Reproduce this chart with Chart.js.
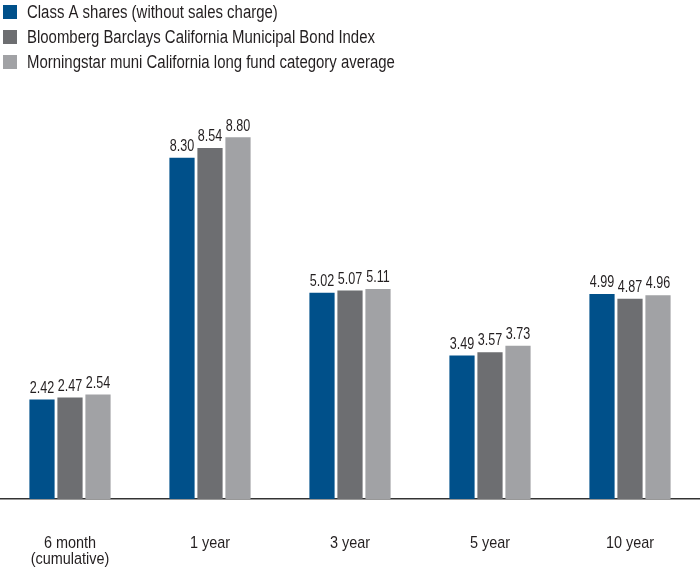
<!DOCTYPE html>
<html>
<head>
<meta charset="utf-8">
<script src="https://cdn.jsdelivr.net/npm/chart.js@4"></script>
<style>
  html, body { margin: 0; padding: 0; background: #fff; }
  #wrap { width: 700px; height: 571px; }
</style>
</head>
<body>
<div id="wrap"><canvas id="perfChart" width="700" height="571"></canvas></div>
<script>
// performance periods and returns (%)
const periods = [["6 month", "(cumulative)"], "1 year", "3 year", "5 year", "10 year"];
const seriesNames = [
  "Class A shares (without sales charge)",
  "Bloomberg Barclays California Municipal Bond Index",
  "Morningstar muni California long fund category average",
];
const classA = [2.42, 8.30, 5.02, 3.49, 4.99];
const bondIndex = [2.47, 8.54, 5.07, 3.57, 4.87];
const categoryAvg = [2.54, 8.80, 5.11, 3.73, 4.96];
const colors = ["#00508a", "#6d6e71", "#a1a2a5"];

const FONT = "'Liberation Sans', Arial, sans-serif";

// the original uses a condensed face, so squeeze Arial horizontally
function condensedText(ctx, text, x, y, squeeze) {
  ctx.save();
  ctx.translate(x, y);
  ctx.scale(squeeze, 1);
  ctx.fillText(text, 0, 0);
  ctx.restore();
}

// legend drawn as stacked rows at the top left
const stackedLegend = {
  id: "stackedLegend",
  afterDraw(chart) {
    const { ctx } = chart;
    ctx.save();
    ctx.font = "18px " + FONT;
    ctx.textBaseline = "middle";
    chart.data.datasets.forEach((ds, i) => {
      const y = 12 + i * 25;
      ctx.fillStyle = ds.backgroundColor;
      ctx.fillRect(3, y - 7, 14, 14);
      ctx.fillStyle = "#231f20";
      condensedText(ctx, ds.label, 27, y + 1, 0.83);
    });
    ctx.restore();
  },
};

// value labels above each bar, category labels under the axis
const valueLabels = {
  id: "valueLabels",
  afterDatasetsDraw(chart) {
    const { ctx } = chart;
    ctx.save();
    ctx.font = "17px " + FONT;
    ctx.fillStyle = "#231f20";
    ctx.textAlign = "center";
    ctx.textBaseline = "bottom";
    chart.data.datasets.forEach((ds, i) => {
      chart.getDatasetMeta(i).data.forEach((bar, j) => {
        condensedText(ctx, ds.data[j].toFixed(2), bar.x, bar.y - 3, 0.74);
      });
    });

    const xs = chart.scales.x;
    ctx.font = "17px " + FONT;
    ctx.textBaseline = "middle";
    chart.data.labels.forEach((lab, j) => {
      const lines = Array.isArray(lab) ? lab : [lab];
      const px = xs.getPixelForTick(j);
      lines.forEach((ln, k) => {
        condensedText(ctx, ln, px, xs.top + 44 + k * 16, 0.85);
      });
    });
    ctx.restore();
  },
};

const ctx = document.getElementById("perfChart").getContext("2d");
new Chart(ctx, {
  type: "bar",
  data: {
    labels: periods,
    datasets: [classA, bondIndex, categoryAvg].map((d, i) => ({
      label: seriesNames[i],
      data: d,
      backgroundColor: colors[i],
      categoryPercentage: 0.6,
      barPercentage: 0.9,
    })),
  },
  options: {
    responsive: false,
    animation: false,
    layout: { padding: { top: 88, left: 0, right: 0, bottom: 0 } },
    plugins: {
      legend: { display: false },
      tooltip: { enabled: false },
    },
    scales: {
      x: {
        grid: { display: false },
        border: { display: true, color: "#333", width: 1.5 },
        ticks: { display: false },
        afterFit(scale) {
          scale.height = 72;
          scale.paddingLeft = 0;
          scale.paddingRight = 0;
        },
      },
      y: {
        display: false,
        min: 0,
        max: 10,
      },
    },
  },
  plugins: [stackedLegend, valueLabels],
});
</script>
</body>
</html>
